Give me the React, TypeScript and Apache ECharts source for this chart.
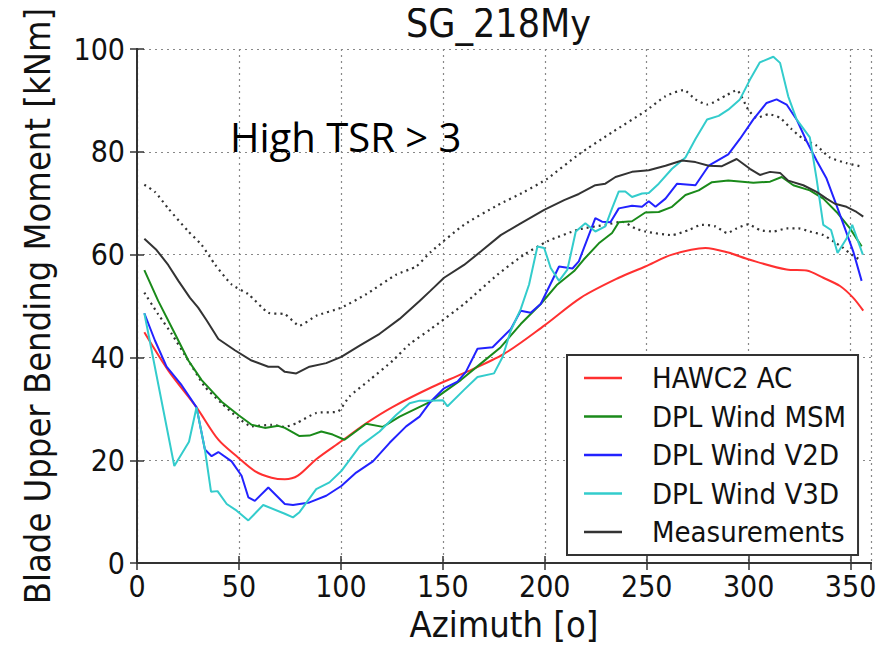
import React, { useEffect, useRef } from "react";
import * as echarts from "echarts";

const xTicks = [0, 50, 100, 150, 200, 250, 300, 350];
const yTicks = [0, 20, 40, 60, 80, 100];

const hawcAz = [3.6, 15.3, 29.2, 39.9, 49.7, 57.8, 66, 72.5, 78.9, 87.9, 100.2, 112.4, 125.5, 145, 160, 180, 199.7, 217.6, 236.3, 249.3, 262.4, 278.8, 290, 300.6, 318.6, 328.4, 336.6, 344.8, 351.3, 356.2];
const hawcVal = [44.9, 37.5, 30.3, 24.0, 20.5, 17.9, 16.6, 16.3, 17.0, 20.2, 23.7, 27.2, 30.4, 34.3, 36.9, 40.7, 46.2, 51.6, 55.5, 57.7, 60.0, 61.3, 60.4, 59.0, 57.1, 56.9, 55.5, 53.9, 51.6, 49.1];

const msmAz = [3.6, 10.4, 18.6, 25.2, 31.7, 41.5, 49.7, 56.2, 62.7, 69.3, 72.5, 79.7, 84.6, 90.4, 96, 101.8, 112.4, 120.6, 128.8, 144, 158.8, 168.6, 178.4, 188.2, 198, 206.2, 214.4, 219, 226.5, 233, 236.3, 242.8, 249.3, 255.9, 262.4, 269, 275.5, 282, 290, 302.3, 310.5, 316.2, 321.9, 330, 336.6, 343.1, 349.7, 355.4];
const msmVal = [57.0, 51.0, 44.6, 39.4, 35.6, 31.4, 28.8, 26.9, 26.3, 26.7, 26.3, 24.7, 24.8, 25.6, 25.0, 24.0, 27.1, 26.5, 28.5, 31.4, 35.6, 38.8, 42.0, 46.5, 50.4, 54.2, 56.8, 59.0, 62.2, 64.2, 66.3, 66.5, 68.2, 68.3, 69.3, 71.6, 72.5, 74.1, 74.4, 74.0, 74.2, 75.1, 73.5, 72.5, 70.9, 68.3, 65.1, 61.6];

const v2dAz = [3.6, 8.8, 14.5, 21.9, 29.2, 33.3, 36.6, 39.9, 46.4, 51.3, 54.6, 57.8, 64.4, 72.5, 76.5, 84.6, 92.8, 100.2, 107.5, 115.7, 123.9, 132, 138.6, 144, 150.6, 157.2, 161.3, 167, 174.4, 183.3, 188.2, 193.1, 198, 207, 213.6, 216.7, 224.8, 228.1, 232.2, 236.3, 242.8, 247.7, 251, 254.3, 259.2, 264.9, 273.9, 280.4, 290, 295.7, 302.3, 308.8, 313.7, 318.6, 323.5, 328.4, 333.3, 338.2, 343.1, 347.2, 351.3, 355.4];
const v2dVal = [48.6, 43.3, 38.2, 34.6, 30.3, 22.1, 20.8, 21.6, 19.8, 17.0, 12.8, 12.1, 14.7, 11.5, 11.3, 11.8, 13.1, 15.0, 17.6, 19.8, 23.4, 26.6, 28.5, 31.4, 34.0, 35.3, 37.2, 41.7, 42.0, 45.5, 49.1, 48.7, 50.4, 57.7, 57.3, 58.7, 67.1, 66.4, 66.3, 69.0, 69.5, 69.3, 70.4, 69.3, 70.9, 73.8, 73.5, 77.3, 79.5, 82.5, 86.3, 89.5, 90.2, 89.2, 86.3, 82.1, 78.3, 74.8, 69.6, 65.1, 60.6, 54.9];

const v3dAz = [3.6, 18.3, 25.5, 29.2, 33.3, 36.3, 39.5, 44, 48.9, 54.6, 61.9, 72.5, 76.5, 79.7, 87.9, 94.4, 100.2, 109.2, 119, 127.1, 133.7, 138.6, 144, 150, 152.3, 160.4, 167, 175.1, 179.3, 183.3, 188.2, 192.3, 196.4, 199.7, 202.9, 207, 211.1, 215.2, 219.9, 224.8, 229.7, 233, 236.3, 239.5, 242.8, 247.7, 251, 255.9, 262.4, 269, 273.9, 279.6, 285.3, 290, 295.7, 300.6, 305.5, 312.1, 315.4, 319.4, 323.5, 330, 333.3, 336.6, 340.4, 343.6, 348.1, 350.8, 356];
const v3dVal = [48.6, 18.9, 23.6, 30.3, 22.1, 13.9, 14.0, 11.5, 10.2, 8.3, 11.3, 9.6, 8.9, 9.9, 14.4, 15.7, 17.9, 22.7, 25.6, 28.8, 31.1, 31.6, 31.6, 31.7, 30.5, 33.7, 36.2, 36.9, 40.1, 45.2, 49.4, 54.2, 61.6, 61.3, 57.4, 54.9, 57.1, 64.5, 66.1, 64.5, 65.5, 69.0, 72.3, 72.3, 71.2, 71.9, 72.0, 73.8, 76.7, 78.9, 82.5, 86.3, 87.0, 88.2, 90.2, 94.0, 97.4, 98.5, 97.3, 90.8, 86.3, 82.8, 74.8, 65.8, 64.8, 60.3, 63.2, 65.8, 60.0];

const measAz = [3.6, 9.6, 15.3, 20.3, 26, 30, 34.2, 39.9, 48, 56.2, 64.4, 69.3, 72.5, 78.1, 84.6, 92.8, 100.2, 109.2, 119, 128.8, 138.6, 144, 150.6, 160.4, 168.6, 178.4, 188.2, 199.7, 209.5, 216.7, 224.8, 229.7, 234.7, 242.8, 251, 259.2, 267.3, 273.9, 280.4, 286.9, 294.1, 300.6, 305.5, 310.5, 315.4, 319.4, 326.8, 333.3, 338.2, 342.3, 348, 352.9, 356.2];
const measVal = [63.1, 60.9, 58.0, 54.9, 51.6, 49.7, 47.2, 43.6, 41.4, 39.4, 38.2, 38.2, 37.2, 36.9, 38.2, 38.9, 40.1, 42.3, 44.6, 47.5, 51.0, 53.0, 55.5, 58.0, 60.6, 63.8, 66.1, 68.7, 70.6, 71.8, 73.5, 73.8, 75.1, 76.1, 76.4, 77.3, 78.3, 78.0, 77.3, 77.2, 78.6, 76.7, 75.5, 76.1, 75.9, 74.4, 73.5, 72.2, 70.9, 69.9, 69.3, 68.3, 67.4];

const upperAz = [3.6, 8.8, 15.3, 25.2, 31.7, 38.2, 46.4, 54.6, 64.4, 72.5, 79.7, 87.9, 100.2, 112.4, 127.1, 136.9, 144, 160.4, 176.8, 189.9, 201.3, 216.7, 233, 249.3, 259.2, 268.1, 273.9, 279.6, 289.5, 294.1, 299.8, 303.9, 309.7, 315.4, 321.1, 326.8, 333.3, 339.8, 348, 354.6];
const upperVal = [73.6, 72.2, 69.0, 64.5, 61.9, 58.1, 54.2, 52.3, 48.7, 48.4, 46.2, 48.1, 49.7, 52.3, 56.1, 57.7, 60.5, 65.8, 69.6, 72.2, 74.8, 79.5, 83.8, 87.9, 90.8, 92.0, 90.2, 89.2, 91.1, 92.0, 88.2, 86.6, 87.3, 86.6, 84.4, 82.5, 81.2, 78.9, 77.8, 77.2];

const lowerAz = [3.6, 10.4, 17, 25.2, 33.3, 41.5, 49.7, 56.2, 66, 72.5, 78.1, 87.9, 98.5, 104.2, 114, 125.5, 133.7, 144, 160.4, 176.8, 189.9, 201.3, 216.7, 229.7, 237.9, 244.4, 249.3, 262.4, 270.6, 277.1, 283.7, 289.5, 294.1, 299.8, 305.5, 312.1, 318.6, 324.4, 330, 336.6, 341.5, 346.4, 350.5, 354.6];
const lowerVal = [52.6, 48.4, 44.6, 39.4, 34.3, 31.1, 28.2, 26.6, 26.9, 26.5, 27.2, 29.2, 29.5, 32.4, 35.6, 39.4, 42.6, 45.5, 50.4, 56.1, 60.0, 62.6, 64.9, 65.8, 66.4, 65.1, 64.5, 63.8, 64.8, 65.8, 65.5, 64.2, 65.1, 65.9, 64.8, 64.5, 65.1, 65.1, 64.5, 63.8, 62.6, 61.3, 60.0, 59.0];

const legendNames = ["HAWC2 AC", "DPL Wind MSM", "DPL Wind V2D", "DPL Wind V3D", "Measurements"];

const FONT = "'DejaVu Sans Condensed', 'Liberation Sans Narrow', 'DejaVu Sans', sans-serif";

const pairs = (a: number[], v: number[]) => a.map((x, i) => [x, v[i]]);

export default function App() {
  const ref = useRef<HTMLDivElement>(null);
  useEffect(() => {
    if (!ref.current) return;
    const chart = echarts.init(ref.current, null, { renderer: "svg" });
    const axisLine = { show: true, lineStyle: { color: "#333", width: 2 } };
    const tick = { show: true, inside: true, length: 7, lineStyle: { color: "#333", width: 1.5 } };
    const split = { show: true, lineStyle: { color: "#888", width: 1.2, type: [2, 4] as any } };
    const lbl = { fontSize: 30, color: "#111", fontFamily: FONT };
    const line = (name: string, a: number[], v: number[], color: string, extra: any = {}) => ({
      name,
      type: "line",
      data: pairs(a, v),
      showSymbol: false,
      symbol: "none",
      lineStyle: { color, width: 2 },
      itemStyle: { color },
      ...extra,
    });
    const dotted = (name: string, a: number[], v: number[]) => ({
      name,
      type: "line",
      data: pairs(a, v),
      showSymbol: false,
      symbol: "none",
      smooth: 0.2,
      lineStyle: { color: "#333", width: 2.2, type: [2, 4] as any },
      itemStyle: { color: "#333" },
    });
    chart.setOption({
      animation: false,
      backgroundColor: "#fff",
      title: {
        text: "SG_218My",
        left: 401,
        top: 0,
        padding: [2, 5, 2, 5],
        textStyle: { fontSize: 39, lineHeight: 42, fontWeight: "normal", color: "#111", fontFamily: FONT },
      },
      grid: { left: 137, right: 18, top: 49, bottom: 79, containLabel: false },
      legend: {
        data: legendNames,
        orient: "vertical",
        left: 567,
        top: 355,
        padding: [8, 12, 8, 17],
        itemGap: 8.5,
        itemWidth: 38,
        itemHeight: 2.5,
        icon: "rect",
        borderColor: "#333",
        borderWidth: 2,
        backgroundColor: "#fff",
        textStyle: { fontSize: 29, lineHeight: 30, color: "#111", fontFamily: FONT, padding: [0, 0, 0, 25] },
      },
      xAxis: [
        {
          type: "value",
          min: 0,
          max: 360,
          interval: 50,
          position: "bottom",
          axisLine,
          axisTick: tick,
          splitLine: split,
          axisLabel: { ...lbl, margin: 8, showMaxLabel: false },
          name: "Azimuth [o]",
          nameLocation: "middle",
          nameGap: 42,
          nameTextStyle: { fontSize: 36, color: "#111", fontFamily: FONT },
        },
        {
          type: "value",
          min: 0,
          max: 360,
          interval: 50,
          position: "top",
          axisLine,
          axisTick: tick,
          splitLine: { show: false },
          axisLabel: { show: false },
        },
      ],
      yAxis: [
        {
          type: "value",
          min: 0,
          max: 100,
          interval: 20,
          position: "left",
          axisLine,
          axisTick: tick,
          splitLine: split,
          axisLabel: { ...lbl, margin: 12 },
          name: "Blade Upper Bending Moment [kNm]",
          nameLocation: "middle",
          nameGap: 82,
          nameRotate: 90,
          nameTextStyle: { fontSize: 36, color: "#111", fontFamily: FONT },
        },
        {
          type: "value",
          min: 0,
          max: 100,
          interval: 20,
          position: "right",
          axisLine,
          axisTick: tick,
          splitLine: { show: false },
          axisLabel: { show: false },
        },
      ],
      graphic: [
        {
          type: "text",
          left: 230,
          top: 116,
          style: { text: "High TSR > 3", fontSize: 40, fontFamily: "'Open Sans', Lato, sans-serif", fill: "#000" },
        },
      ],
      series: [
        dotted("upper", upperAz, upperVal),
        dotted("lower", lowerAz, lowerVal),
        line("HAWC2 AC", hawcAz, hawcVal, "#ff3030", { smooth: 0.3 }),
        line("DPL Wind MSM", msmAz, msmVal, "#1a8a1a"),
        line("DPL Wind V2D", v2dAz, v2dVal, "#2222ff"),
        line("DPL Wind V3D", v3dAz, v3dVal, "#33cccc"),
        line("Measurements", measAz, measVal, "#333333"),
      ],
    });
    return () => chart.dispose();
  }, []);
  return <div ref={ref} style={{ width: 889, height: 647, marginLeft: -8, marginTop: -8 }} />;
}
